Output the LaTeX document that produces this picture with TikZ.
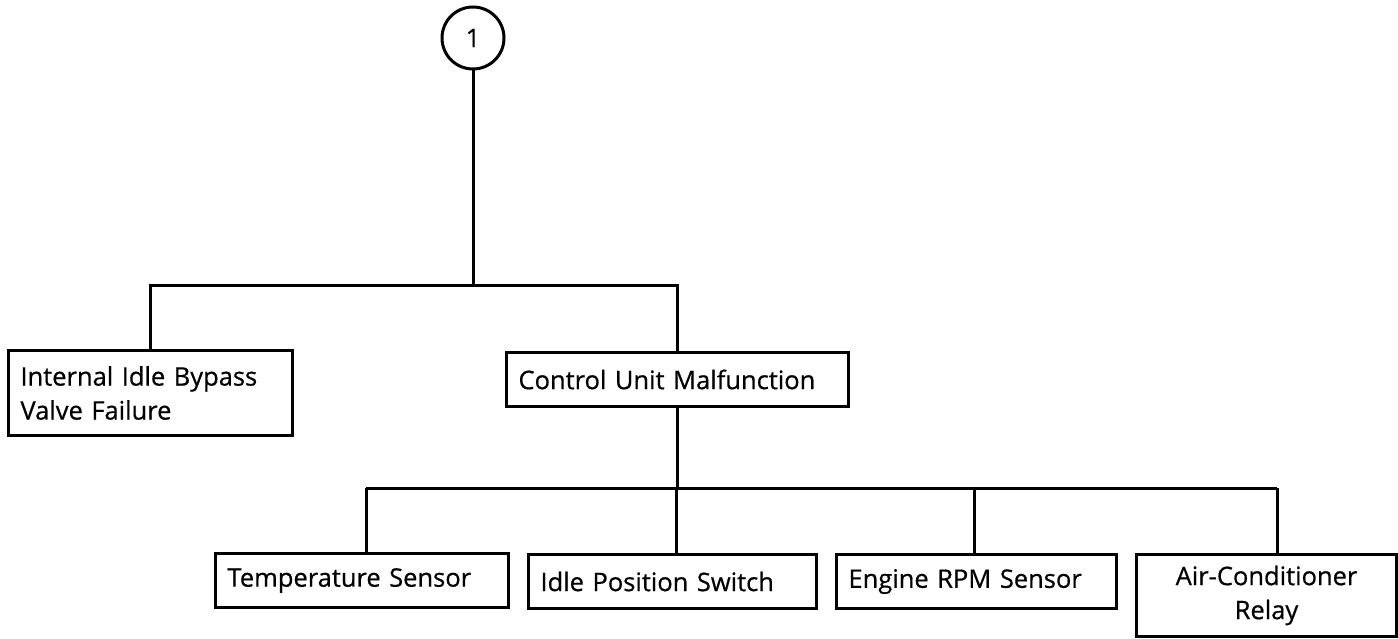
\documentclass[tikz,border=0pt]{standalone}
\usepackage{fontspec}
\setmainfont{Open Sans}[FakeBold=0.6]

\tikzset{
  blk/.style={draw, rectangle, line width=3pt, inner xsep=12pt, inner ysep=0pt,
    align=left, font=\fontsize{25.5}{34}\selectfont},
  conn/.style={line width=3pt}
}

\begin{document}
\begin{tikzpicture}[x=1pt, y=-1pt]
                \useasboundingbox (0,0) rectangle (1398,639);
                \node[circle, draw, line width=3pt, minimum size=62pt, inner sep=0pt,
                  font=\fontsize{25.5}{30}\selectfont] (one) at (473,38) {1};
                \node[blk, anchor=north west, text width=260pt, minimum height=85pt] (valve) at (7,349)
                  {Internal Idle Bypass\\Valve Failure};
                \node[blk, anchor=north west, text width=318pt, minimum height=54pt] (ctrl) at (505,351)
                  {Control Unit Malfunction};
                \node[blk, anchor=north west, text width=269pt, minimum height=54pt] (temp) at (214,552)
                  {Temperature Sensor};
                \node[blk, anchor=north west, text width=264pt, minimum height=54pt] (idle) at (527,553)
                  {Idle Position Switch};
                \node[blk, anchor=north west, text width=256pt, minimum height=54pt] (rpm) at (835,553)
                  {Engine RPM Sensor};
                \node[blk, anchor=north west, text width=236pt, minimum height=82pt, align=center] (relay) at (1135,553)
                  {Air-Conditioner\\Relay};
                \coordinate (bus1) at (473,285);
                \coordinate (ta) at (366,488);
                \coordinate (ia) at (676,488);
                \coordinate (ea) at (974,488);
                \coordinate (aa) at (1277,488);
                \draw[conn] (one) -- (bus1);
                \draw[conn] (valve.north) |- (bus1) -| (ctrl.north);
                \draw[conn] (ctrl.south) -- (ctrl.south |- ia);
                \draw[conn] (ta) -- (aa);
                \draw[conn] (ta) -- (ta |- temp.north);
                \draw[conn] (ia) -- (ia |- idle.north);
                \draw[conn] (ea) -- (ea |- rpm.north);
                \draw[conn] (aa) -- (aa |- relay.north);
            \end{tikzpicture}
\end{document}
